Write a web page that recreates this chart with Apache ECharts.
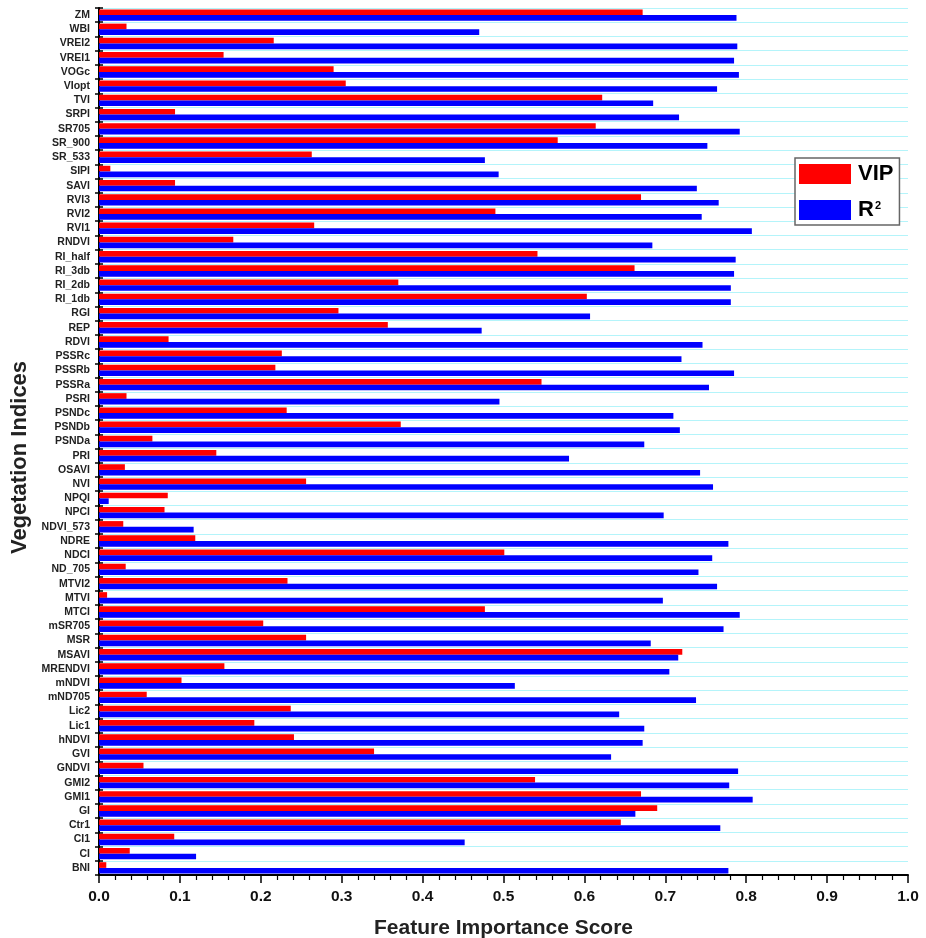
<!DOCTYPE html>
<html>
<head>
<meta charset="utf-8">
<script src="https://cdn.jsdelivr.net/npm/echarts@6/dist/echarts.min.js"></script>
<style>
  html, body { margin: 0; padding: 0; background: #ffffff; }
  #chart { width: 926px; height: 938px; }
</style>
</head>
<body>
<div id="chart"></div>
<script>
// Vegetation indices, listed top to bottom as drawn
const indices = ['ZM','WBI','VREI2','VREI1','VOGc','VIopt','TVI','SRPI','SR705','SR_900','SR_533','SIPI','SAVI','RVI3','RVI2','RVI1','RNDVI','RI_half','RI_3db','RI_2db','RI_1db','RGI','REP','RDVI','PSSRc','PSSRb','PSSRa','PSRI','PSNDc','PSNDb','PSNDa','PRI','OSAVI','NVI','NPQI','NPCI','NDVI_573','NDRE','NDCI','ND_705','MTVI2','MTVI','MTCI','mSR705','MSR','MSAVI','MRENDVI','mNDVI','mND705','Lic2','Lic1','hNDVI','GVI','GNDVI','GMI2','GMI1','GI','Ctr1','CI1','CI','BNI'];

// Variable importance in projection (VIP) per index
const vipScores = [0.672,0.034,0.216,0.154,0.290,0.305,0.622,0.094,0.614,0.567,0.263,0.014,0.094,0.670,0.490,0.266,0.166,0.542,0.662,0.370,0.603,0.296,0.357,0.086,0.226,0.218,0.547,0.034,0.232,0.373,0.066,0.145,0.032,0.256,0.085,0.081,0.030,0.119,0.501,0.033,0.233,0.010,0.477,0.203,0.256,0.721,0.155,0.102,0.059,0.237,0.192,0.241,0.340,0.055,0.539,0.670,0.690,0.645,0.093,0.038,0.009];

// Coefficient of determination (R²) per index
const r2Scores = [0.788,0.470,0.789,0.785,0.791,0.764,0.685,0.717,0.792,0.752,0.477,0.494,0.739,0.766,0.745,0.807,0.684,0.787,0.785,0.781,0.781,0.607,0.473,0.746,0.720,0.785,0.754,0.495,0.710,0.718,0.674,0.581,0.743,0.759,0.012,0.698,0.117,0.778,0.758,0.741,0.764,0.697,0.792,0.772,0.682,0.716,0.705,0.514,0.738,0.643,0.674,0.672,0.633,0.790,0.779,0.808,0.663,0.768,0.452,0.120,0.778];

// Score axis ticks
const scoreTicks = [0.0,0.1,0.2,0.3,0.4,0.5,0.6,0.7,0.8,0.9,1.0];

const FONT = "'Liberation Sans', Arial, sans-serif";
const chart = echarts.init(document.getElementById('chart'), null, { renderer: 'canvas' });

chart.setOption({
  animation: false,
  backgroundColor: '#ffffff',
  grid: { left: 99, right: 18, top: 8, bottom: 63, containLabel: false, outerBoundsMode: 'none' },
  legend: {
    orient: 'vertical',
    left: 795,
    top: 158,
    padding: [5, 6, 4, 4],
    itemWidth: 52,
    itemHeight: 20,
    itemGap: 14,
    icon: 'rect',
    borderColor: '#666666',
    borderWidth: 1.5,
    backgroundColor: '#ffffff',
    formatter: function (name) {
      return name === 'VIP' ? '{b|VIP}' : '{b|R}{s|2}';
    },
    textStyle: {
      fontFamily: FONT,
      padding: [0, 0, 0, 2],
      rich: {
        b: { fontFamily: FONT, fontSize: 22, fontWeight: 'bold', color: '#000', lineHeight: 20 },
        s: { fontFamily: FONT, fontSize: 11, fontWeight: 'bold', color: '#000', verticalAlign: 'top', lineHeight: 20, padding: [0, 0, 8, 1] }
      }
    },
    data: ['VIP', 'R²']
  },
  xAxis: {
    type: 'value',
    min: scoreTicks[0],
    max: scoreTicks[scoreTicks.length - 1],
    interval: 0.1,
    name: 'Feature Importance Score',
    nameLocation: 'middle',
    nameGap: 43,
    nameTextStyle: { fontFamily: FONT, fontSize: 21, fontWeight: 'bold', color: '#222' },
    axisLine: { show: true, lineStyle: { color: '#000', width: 2 } },
    axisTick: { show: true, length: 8, lineStyle: { color: '#000', width: 1.5 } },
    minorTick: { show: true, splitNumber: 5, length: 5, lineStyle: { color: '#000', width: 1.2 } },
    axisLabel: {
      margin: 14,
      fontFamily: FONT, fontSize: 15.5, fontWeight: 'bold', color: '#111',
      formatter: v => v.toFixed(1)
    },
    splitLine: { show: false }
  },
  yAxis: [
    {
      type: 'category',
      data: indices,
      inverse: true,
      position: 'left',
      name: 'Vegetation Indices',
      nameLocation: 'middle',
      nameGap: 67,
      nameRotate: 90,
      nameTextStyle: { fontFamily: FONT, fontSize: 22, fontWeight: 'bold', color: '#222', padding: [0, 32, 0, 0] },
      axisLine: { show: true, lineStyle: { color: '#000', width: 2 } },
      axisTick: { show: true, interval: 0, length: 4, lineStyle: { color: '#000', width: 1.5 } },
      axisLabel: { margin: 9, interval: 0, fontFamily: FONT, fontSize: 10.5, fontWeight: 'bold', color: '#222' },
      splitLine: { show: true, interval: 0, lineStyle: { color: '#b4f4fa', width: 1.2 } }
    },
    {
      type: 'category',
      data: indices,
      inverse: true,
      position: 'left',
      axisLine: { show: false },
      axisTick: { show: true, interval: 0, inside: true, length: 4, lineStyle: { color: '#000', width: 1.5 } },
      axisLabel: { show: false, interval: 0 },
      splitLine: { show: false }
    }
  ],
  series: [
    {
      name: 'VIP',
      type: 'bar',
      yAxisIndex: 0,
      data: vipScores,
      barWidth: '40%',
      barGap: '0%',
      itemStyle: { color: '#ff0000' }
    },
    {
      name: 'R²',
      type: 'bar',
      yAxisIndex: 0,
      data: r2Scores,
      barWidth: '40%',
      barGap: '0%',
      itemStyle: { color: '#0000ff' }
    }
  ]
});
</script>
</body>
</html>
